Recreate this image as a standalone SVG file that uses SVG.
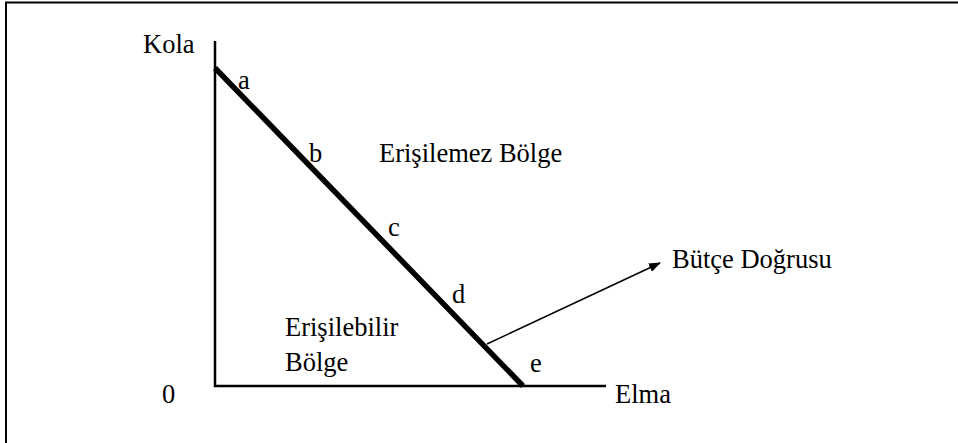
<svg xmlns="http://www.w3.org/2000/svg" width="958" height="443" viewBox="0 0 958 443">
<style>
.ax{stroke:#000;stroke-width:2.5;fill:none}
</style>
<defs>
<marker id="ah" markerWidth="12" markerHeight="9" refX="11" refY="4.5" orient="auto" markerUnits="userSpaceOnUse" viewBox="0 0 12 9"><path d="M0,0 L12,4.5 L0,9 z" fill="#000"/></marker>
</defs>
<rect width="958" height="443" fill="#fff"/>
<g id="frame"><path d="M6,443 V2.5 H958" stroke="#000" stroke-width="2" fill="none"/></g>
<g id="connectors">
<path class="ax" d="M215,41 V386 H606"/>
<line x1="215" y1="68" x2="523" y2="386" stroke="#000" stroke-width="5.5"/>
<line x1="487" y1="344" x2="660" y2="263" stroke="#000" stroke-width="1.5" marker-end="url(#ah)"/>
</g>
<g id="labels" font-family="Liberation Serif, Times New Roman, DejaVu Serif, serif" font-size="26.5" fill="#000">
<text x="143" y="53">Kola</text>
<text x="162" y="403">0</text>
<text x="615" y="403">Elma</text>
<text x="238" y="89">a</text>
<text x="309" y="162">b</text>
<text x="388" y="236">c</text>
<text x="452" y="303">d</text>
<text x="530" y="372">e</text>
<text x="379" y="162">Erişilemez Bölge</text>
<text x="285" y="336">Erişilebilir</text>
<text x="285" y="371">Bölge</text>
<text x="672" y="268">Bütçe Doğrusu</text>
</g>
</svg>
